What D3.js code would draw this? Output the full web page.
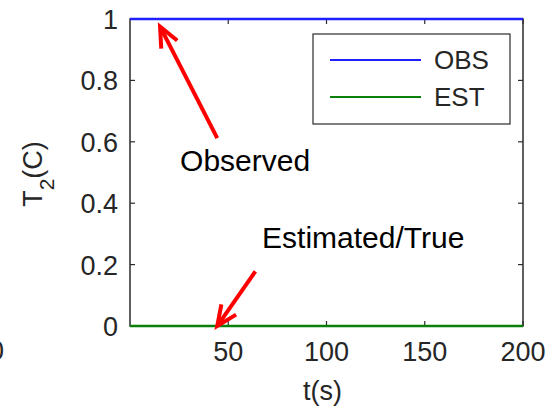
<!DOCTYPE html>
<html>
<head>
<meta charset="utf-8">
<script src="https://cdn.jsdelivr.net/npm/d3@7"></script>
<style>
  body { margin: 0; background: #fff; }
  svg { display: block; font-family: Arial, "Liberation Sans", sans-serif; }
</style>
</head>
<body>
<div id="chart"></div>
<script>
// data
var seriesNames = ["OBS", "EST"];
var seriesColors = ["#1f1fff", "#0a7f0a"];
var timeValues = [0, 200];
var obsValues = [1, 1];
var estValues = [0, 0];
var xTicks = [50, 100, 150, 200];
var yTicks = [0, 0.2, 0.4, 0.6, 0.8, 1];
// annotations in data units: [label, textT, textY, tailT, tailY, headT, headY]
var notes = [
    ["Observed", 25.5, 0.505, 44.4, 0.612, 15.3, 0.975],
    ["Estimated/True", 67.2, 0.254, 63.8, 0.178, 44.4, 0.0]
];

var width = 549, height = 407;
var margin = { top: 19, right: 26, bottom: 81, left: 130 };

var svg = d3.select("#chart").append("svg")
    .attr("width", width)
    .attr("height", height);

var x = d3.scaleLinear().domain([0, 200]).range([margin.left, width - margin.right]);
var y = d3.scaleLinear().domain([0, 1]).range([height - margin.bottom, margin.top]);

var axisColor = "#2b2b2b";
var textColor = "#262626";
var tickLen = 5;

// box + ticks
var g = svg.append("g");
g.append("rect")
    .attr("x", x(0)).attr("y", y(1))
    .attr("width", x(200) - x(0)).attr("height", y(0) - y(1))
    .attr("fill", "none").attr("stroke", axisColor).attr("stroke-width", 1.5);

xTicks.forEach(function (t) {
    g.append("line").attr("x1", x(t)).attr("x2", x(t))
        .attr("y1", y(0)).attr("y2", y(0) - tickLen)
        .attr("stroke", axisColor).attr("stroke-width", 1.2);
    g.append("line").attr("x1", x(t)).attr("x2", x(t))
        .attr("y1", y(1)).attr("y2", y(1) + tickLen)
        .attr("stroke", axisColor).attr("stroke-width", 1.2);
    g.append("text").attr("x", x(t)).attr("y", y(0) + 35)
        .attr("text-anchor", "middle")
        .attr("font-size", 27).attr("fill", textColor)
        .text(t);
});
yTicks.forEach(function (v) {
    g.append("line").attr("x1", x(0)).attr("x2", x(0) + tickLen)
        .attr("y1", y(v)).attr("y2", y(v))
        .attr("stroke", axisColor).attr("stroke-width", 1.2);
    g.append("line").attr("x1", x(200)).attr("x2", x(200) - tickLen)
        .attr("y1", y(v)).attr("y2", y(v))
        .attr("stroke", axisColor).attr("stroke-width", 1.2);
    g.append("text").attr("x", x(0) - 12).attr("y", y(v) + 10)
        .attr("text-anchor", "end")
        .attr("font-size", 27).attr("fill", textColor)
        .text(d3.format("~g")(v));
});

// stray label from neighbouring subplot, cut at left edge
svg.append("text").attr("x", -11).attr("y", y(0) + 34)
    .attr("font-size", 27).attr("fill", textColor).text("0");

// axis labels
svg.append("text").attr("x", x(98)).attr("y", height - 7)
    .attr("text-anchor", "middle").attr("font-size", 27).attr("fill", textColor)
    .text("t(s)");
var yl = svg.append("text")
    .attr("transform", "translate(42,174) rotate(-90)")
    .attr("text-anchor", "middle").attr("font-size", 27).attr("fill", textColor);
yl.append("tspan").text("T");
yl.append("tspan").attr("font-size", 21).attr("dy", 12).text("2");
yl.append("tspan").attr("dy", -12).text("(C)");

// series
var line = d3.line().x(function (d) { return x(d[0]); }).y(function (d) { return y(d[1]); });
[obsValues, estValues].forEach(function (vals, i) {
    svg.append("path")
        .datum(timeValues.map(function (t, k) { return [t, vals[k]]; }))
        .attr("d", line)
        .attr("fill", "none")
        .attr("stroke", seriesColors[i])
        .attr("stroke-width", 2.5);
});

// legend
var lg = svg.append("g").attr("transform", "translate(313,34)");
lg.append("rect").attr("width", 197).attr("height", 90)
    .attr("fill", "#fff").attr("stroke", axisColor).attr("stroke-width", 1.2);
seriesNames.forEach(function (name, i) {
    var cy = 26 + i * 37;
    lg.append("line").attr("x1", 17).attr("x2", 108)
        .attr("y1", cy).attr("y2", cy)
        .attr("stroke", seriesColors[i]).attr("stroke-width", 2);
    lg.append("text").attr("x", 121).attr("y", cy + 9)
        .attr("font-size", 26).attr("fill", textColor).text(name);
});

// annotations
notes.forEach(function (n) {
    svg.append("text").attr("x", x(n[1])).attr("y", y(n[2]))
        .attr("font-size", 30).attr("fill", "#000").text(n[0]);
    var x1 = x(n[3]), y1 = y(n[4]), x2 = x(n[5]), y2 = y(n[6]);
    var ang = Math.atan2(y2 - y1, x2 - x1);
    var hl = 22, spread = 0.42;
    svg.append("line").attr("x1", x1).attr("y1", y1)
        .attr("x2", x2 - Math.cos(ang) * 2).attr("y2", y2 - Math.sin(ang) * 2)
        .attr("stroke", "#ff0000").attr("stroke-width", 4);
    svg.append("path")
        .attr("d", "M" + (x2 - hl * Math.cos(ang - spread)) + "," + (y2 - hl * Math.sin(ang - spread)) +
            "L" + x2 + "," + y2 +
            "L" + (x2 - hl * Math.cos(ang + spread)) + "," + (y2 - hl * Math.sin(ang + spread)))
        .attr("fill", "none").attr("stroke", "#ff0000").attr("stroke-width", 4)
        .attr("stroke-linejoin", "miter");
});
</script>
</body>
</html>
